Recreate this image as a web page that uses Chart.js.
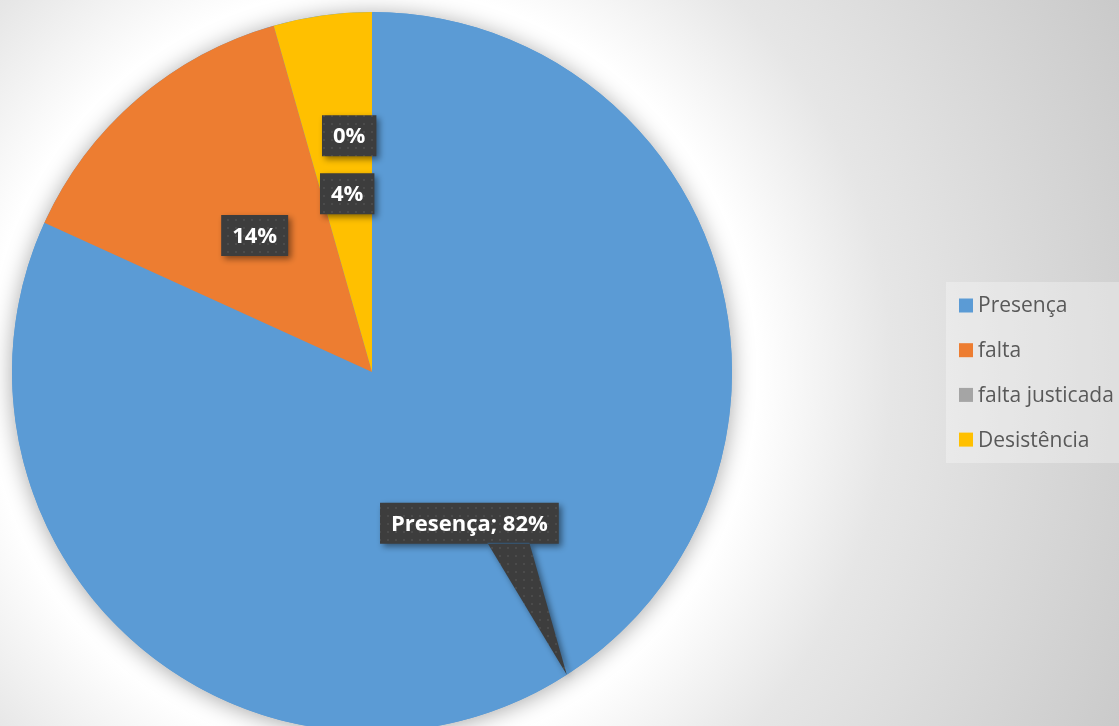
<!DOCTYPE html>
<html lang="pt">
<head>
<meta charset="UTF-8">
<title>Presença</title>
<script src="https://cdn.jsdelivr.net/npm/chart.js"></script>
<style>
    html, body {
        margin: 0;
        padding: 0;
        overflow: hidden;
    }
    .wrap {
        width: 1119px;
        height: 744px;
        background: radial-gradient(circle at 372px 372px, #ffffff 0, #ffffff 385px, #e6e6e6 520px, #c9c9c9 840px);
    }
</style>
</head>
<body>
<div class="wrap"><canvas id="chart"></canvas></div>
<script>
    const labels = ['Presença', 'falta', 'falta justicada', 'Desistência'];
    const values = [81.8, 13.8, 0, 4.4];
    const colors = ['#5B9BD5', '#ED7D31', '#A5A5A5', '#FFC000'];

    // dotted fill used by the data label boxes
    function makePattern(ctx) {
        const c = document.createElement('canvas');
        c.width = 8; c.height = 8;
        const p = c.getContext('2d');
        p.fillStyle = '#3d3d3d';
        p.fillRect(0, 0, 8, 8);
        p.fillStyle = '#4b4b4b';
        p.fillRect(3, 3, 2, 2);
        return ctx.createPattern(c, 'repeat');
    }

    const pieShadow = {
        id: 'pieShadow',
        beforeDatasetsDraw(chart) {
            const arc = chart.getDatasetMeta(0).data[0];
            if (!arc) return;
            const ctx = chart.ctx;
            ctx.save();
            ctx.shadowColor = 'rgba(0,0,0,0.35)';
            ctx.shadowBlur = 22;
            ctx.shadowOffsetY = 2;
            ctx.fillStyle = '#5B9BD5';
            ctx.beginPath();
            ctx.arc(arc.x, arc.y, arc.outerRadius, 0, Math.PI * 2);
            ctx.fill();
            ctx.restore();
        }
    };

    const dataLabels = {
        id: 'dataLabels',
        afterDatasetsDraw(chart) {
            const ctx = chart.ctx;
            const meta = chart.getDatasetMeta(0);
            const total = values.reduce((a, b) => a + b, 0);
            const pattern = makePattern(ctx);
            ctx.save();
            ctx.font = 'bold 22px "Open Sans"';
            ctx.textAlign = 'center';
            ctx.textBaseline = 'middle';

            const pos = meta.data.map(a => a.tooltipPosition());
            // zero slice label gets pushed above the neighbouring one
            values.forEach((v, i) => {
                if (v === 0 && pos[i + 1]) pos[i] = { x: pos[i + 1].x + 2, y: pos[i + 1].y - 58 };
            });

            meta.data.forEach((arc, i) => {
                const pct = Math.round(values[i] / total * 100) + '%';
                const text = i === 0 ? labels[i] + '; ' + pct : pct;
                const w = ctx.measureText(text).width + 22;
                const h = 41;
                const x = pos[i].x - w / 2;
                const y = pos[i].y - h / 2;

                ctx.save();
                ctx.shadowColor = 'rgba(0,0,0,0.45)';
                ctx.shadowBlur = 6;
                ctx.shadowOffsetX = 3;
                ctx.shadowOffsetY = 3;
                ctx.fillStyle = pattern;
                ctx.beginPath();
                ctx.rect(x, y, w, h);
                if (i === 0) {
                    // callout pointer to the slice edge
                    const mid = (arc.startAngle + arc.endAngle) / 2;
                    const tx = arc.x + Math.cos(mid) * arc.outerRadius;
                    const ty = arc.y + Math.sin(mid) * arc.outerRadius;
                    const bx = pos[i].x + (tx - pos[i].x) * 0.4;
                    ctx.moveTo(bx - 21, y + h - 1);
                    ctx.lineTo(tx, ty);
                    ctx.lineTo(bx + 21, y + h - 1);
                    ctx.closePath();
                }
                ctx.fill();
                ctx.restore();

                ctx.fillStyle = '#ffffff';
                ctx.fillText(text, pos[i].x, pos[i].y + 1);
            });
            ctx.restore();
        }
    };

    const sideLegend = {
        id: 'sideLegend',
        afterDraw(chart) {
            const ctx = chart.ctx;
            ctx.save();
            ctx.fillStyle = 'rgba(255,255,255,0.3)';
            ctx.fillRect(946, 282, 173, 181);
            ctx.font = '21px "Open Sans"';
            ctx.textBaseline = 'middle';
            ctx.textAlign = 'left';
            labels.forEach((l, i) => {
                const cy = 305.5 + i * 44.7;
                ctx.fillStyle = colors[i];
                ctx.fillRect(959, cy - 7, 14, 14);
                ctx.fillStyle = '#595959';
                ctx.fillText(l, 978, cy + 1);
            });
            ctx.restore();
        }
    };

    new Chart(document.getElementById('chart'), {
        type: 'pie',
        data: {
            labels: labels,
            datasets: [{
                data: values,
                backgroundColor: colors,
                borderWidth: 0,
                hoverOffset: 0,
                offset: 0
            }]
        },
        options: {
            responsive: true,
            maintainAspectRatio: false,
            animation: false,
            layout: { padding: { left: 12, top: 12, right: 387, bottom: 12 } },
            plugins: {
                legend: { display: false },
                tooltip: { enabled: false }
            }
        },
        plugins: [pieShadow, dataLabels, sideLegend]
    });
</script>
</body>
</html>
